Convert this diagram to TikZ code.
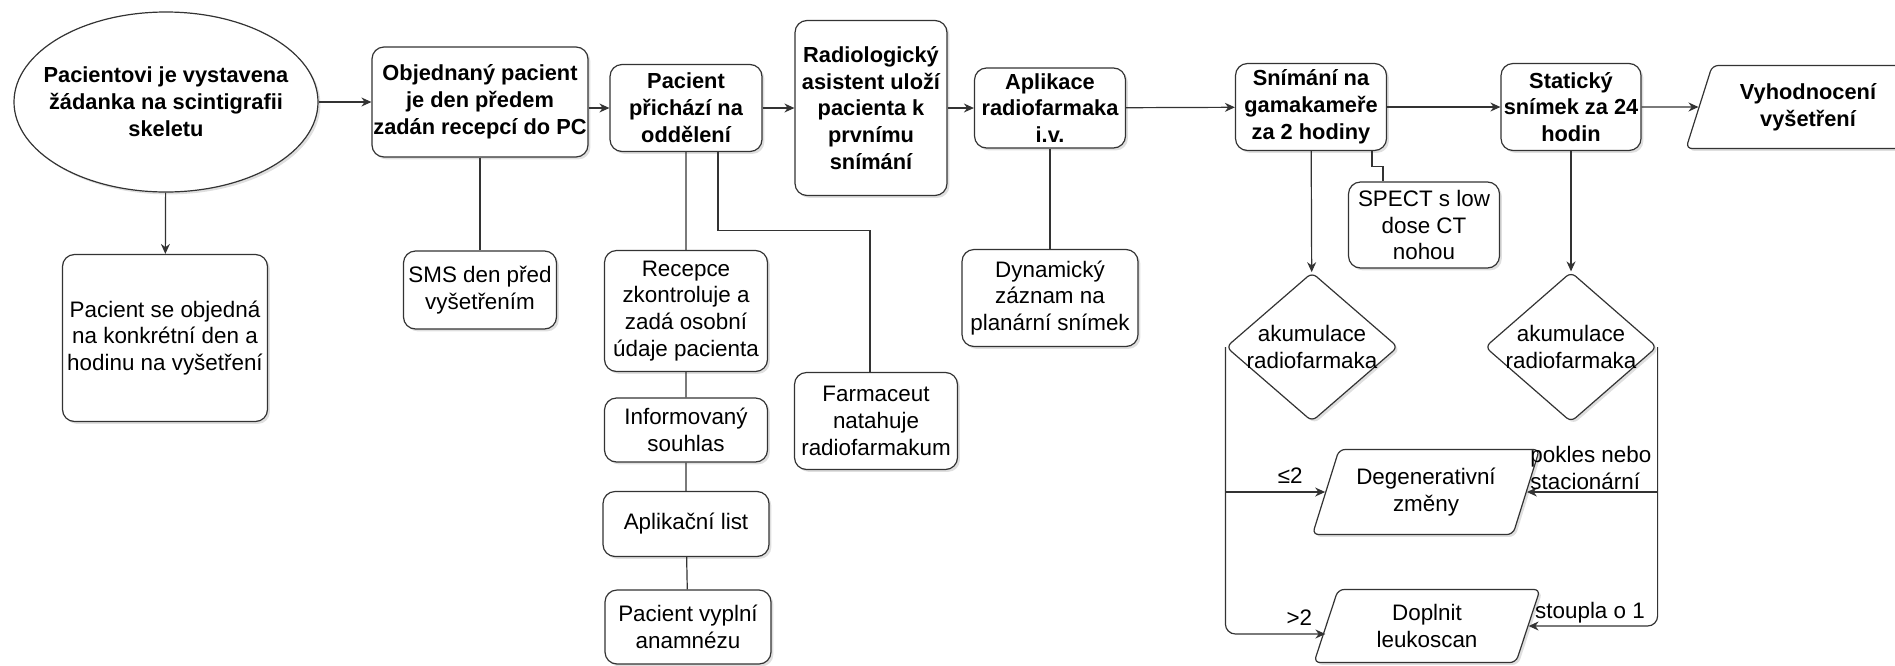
\documentclass[tikz,border=0pt]{standalone}
\usepackage{fontspec}
\setmainfont{Liberation Sans}
\usetikzlibrary{arrows.meta,shapes.geometric,shadows}

\newcommand{\pismo}{\fontsize{11.2pt}{13.4pt}\selectfont}
\newcommand{\pismotucne}{\fontsize{10.9pt}{13.4pt}\selectfont\bfseries}
\tikzset{
  stin/.style={drop shadow={opacity=0.25,shadow xshift=1.2pt,shadow yshift=-1.2pt}},
  krok/.style={draw=black!80,fill=white,rounded corners=6pt,align=center,inner sep=0.5pt,font=\pismotucne,stin},
  pozn/.style={krok,font=\pismo},
  rozhod/.style={draw=black!80,fill=white,diamond,aspect=1.15,rounded corners=3pt,align=center,inner sep=-3pt,font=\pismo,stin},
  vystup/.style={draw=black!80,fill=white,trapezium,trapezium left angle=62,trapezium right angle=118,trapezium stretches body,rounded corners=3pt,align=center,inner sep=0.5pt,stin},
  spoj/.style={draw=black!80},
  sipka/.style={spoj,->},
  popis/.style={font=\pismo,inner sep=1pt}
}

\begin{document}
\begin{tikzpicture}[x=0.5pt,y=-0.5pt,>={Stealth[length=5pt,width=4.5pt]},line width=0.6pt]
\useasboundingbox (0,0) rectangle (1895,665);
\clip (0,0) rectangle (1895,665);

\node[krok,ellipse,inner xsep=-12pt,inner ysep=0pt,minimum width=152pt,minimum height=90pt] (vystaveni) at (166,102) {Pacientovi je vystavena\\žádanka na scintigrafii\\skeletu};
\node[krok,minimum width=108pt,minimum height=55pt] (objednany) at (480,102) {Objednaný pacient\\je den předem\\zadán recepcí do PC};
\node[krok,minimum width=76pt,minimum height=43.5pt] (prichazi) at (686,108) {Pacient\\přichází na\\oddělení};
\node[krok,minimum width=76pt,minimum height=87.5pt] (ulozi) at (871,108) {Radiologický\\asistent uloží\\pacienta k\\prvnímu\\snímání};
\node[krok,minimum width=75.5pt,minimum height=40pt] (aplikace) at (1050,108) {Aplikace\\radiofarmaka\\i.v.};
\node[krok,minimum width=75.5pt,minimum height=43.5pt] (snimani) at (1311,107) {Snímání na\\gamakameře\\za 2 hodiny};
\node[krok,minimum width=70pt,minimum height=43.5pt] (staticky) at (1571,107) {Statický\\snímek za 24\\hodin};
\node[vystup,font=\pismotucne,minimum width=122pt,minimum height=41.5pt] (vyhodnoceni) at (1808,107) {Vyhodnocení\\vyšetření};

\node[pozn,minimum width=102.5pt,minimum height=83.5pt] (objednat) at (165,338) {Pacient se objedná\\na konkrétní den a\\hodinu na vyšetření};
\node[pozn,minimum width=76.5pt,minimum height=39pt] (sms) at (480,290) {SMS den před\\vyšetřením};
\node[pozn,minimum width=81.5pt,minimum height=60.5pt] (recepce) at (686,311) {Recepce\\zkontroluje a\\zadá osobní\\údaje pacienta};
\node[pozn,minimum width=81.5pt,minimum height=32pt] (souhlas) at (686,430) {Informovaný\\souhlas};
\node[pozn,minimum width=83pt,minimum height=32.5pt] (list) at (686,524) {Aplikační list};
\node[pozn,minimum width=83pt,minimum height=37pt] (anamneza) at (688,627) {Pacient vyplní\\anamnézu};
\node[pozn,minimum width=81.5pt,minimum height=48.5pt] (farmaceut) at (876,421) {Farmaceut\\natahuje\\radiofarmakum};
\node[pozn,minimum width=88pt,minimum height=48.5pt] (dynamicky) at (1050,298) {Dynamický\\záznam na\\planární snímek};
\node[pozn,minimum width=75.5pt,minimum height=43pt] (spect) at (1424,225) {SPECT s low\\dose CT\\nohou};
\node[rozhod,minimum width=86pt,minimum height=74.5pt] (akum1) at (1312,347) {akumulace\\radiofarmaka};
\node[rozhod,minimum width=86pt,minimum height=75pt] (akum2) at (1571,347) {akumulace\\radiofarmaka};
\node[vystup,font=\pismo,minimum width=113.5pt,minimum height=42.5pt] (degenerativni) at (1426,492) {Degenerativní\\změny};
\node[vystup,font=\pismo,minimum width=113pt,minimum height=36.5pt] (doplnit) at (1427,626) {Doplnit\\leukoscan};

\draw[sipka] (vystaveni) -- (objednany);
\draw[sipka] (vystaveni) -- (objednat);
\draw[sipka] (objednany.east |- prichazi) -- (prichazi);
\draw[sipka] (prichazi) -- (ulozi);
\draw[sipka] (ulozi) -- (aplikace);
\draw[sipka] (aplikace) -- (snimani);
\draw[sipka] (snimani) -- (staticky);
\draw[sipka] (staticky) -- (vyhodnoceni);
\draw[spoj] (objednany) -- (sms);
\draw[spoj] (prichazi) -- (recepce) -- (souhlas) -- (list) -- (anamneza);
\draw[spoj] ([xshift=16pt]prichazi.south) -- ++(0,78) -| ([xshift=-3pt]farmaceut.north);
\draw[spoj] (aplikace) -- (dynamicky);
\draw[sipka] (snimani) -- (akum1);
\draw[spoj] ([xshift=30.5pt]snimani.south) -- ++(0,15) -| ([xshift=-20.5pt]spect.north);
\draw[sipka] (staticky) -- (akum2);

\draw[sipka,rounded corners=5pt] (akum1.west) |- ([yshift=-4pt]doplnit.west) node[popis,pos=0.87,above=3pt] {>2};
\draw[sipka] (akum1.west |- degenerativni.west) -- (degenerativni.west) node[popis,pos=0.65,above=3pt] {≤2};
\draw[sipka,rounded corners=5pt] (akum2.east) |- (doplnit.east) node[popis,pos=1,anchor=south west,xshift=2pt] {stoupla o 1};
\draw[sipka] (akum2.east |- degenerativni.east) -- (degenerativni.east) node[popis,pos=1,anchor=south west,xshift=0.5pt,align=left] {pokles nebo\\stacionární};
\end{tikzpicture}
\end{document}
